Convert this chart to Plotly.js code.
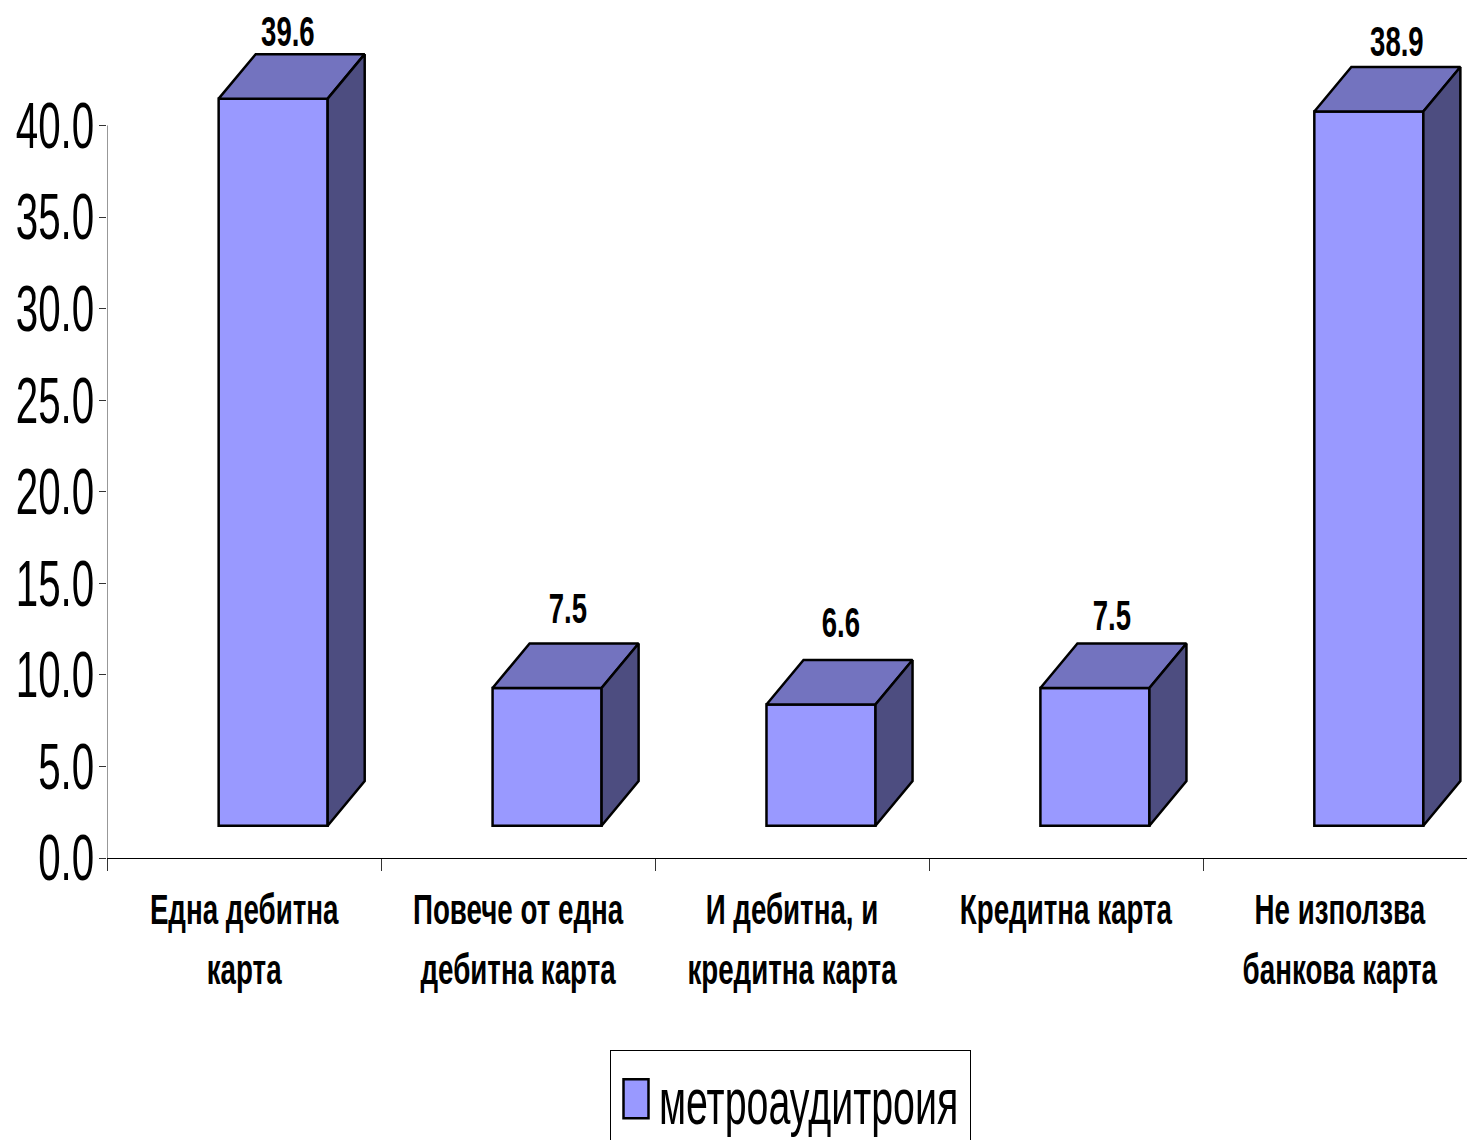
<!DOCTYPE html>
<html>
<head>
<meta charset="utf-8">
<script src="https://cdn.plot.ly/plotly-3.0.1.min.js"></script>
<style>html,body{margin:0;padding:0;background:#fff;overflow:hidden}</style>
</head>
<body>
<div id="chart" style="width:1467px;height:1140px"></div>
<script>
const categories = ['Една дебитна<br>карта', 'Повече от една<br>дебитна карта', 'И дебитна, и<br>кредитна карта', 'Кредитна карта', 'Не използва<br>банкова карта'];
const values = [39.6, 7.5, 6.6, 7.5, 38.9];
const seriesName = 'метроаудитроия';
const yTicks = [0, 5, 10, 15, 20, 25, 30, 35, 40];
const labelShiftX = [15, 21, 20, 17, 28];
const labelShiftY = [68, 80, 83, 73, 71];

const FRONT = '#9999FF', TOP = '#7373BF', SIDE = '#4D4D80';
const FONT = '"Liberation Sans", Arial, sans-serif';
const barOffset = 0.1066, barWidth = 0.398, depthX = 0.1352, depthY = 2.43, floor = 1.765, heightScale = 1.0025;
const unitsPerPx = 40 / 732.8;

const centers = values.map((_, i) => i + barOffset);
const heights = values.map(v => v * heightScale);
const traces = [{
  type: 'bar', name: seriesName, x: centers, y: heights, base: values.map(() => floor),
  width: barWidth, cliponaxis: false, showlegend: true,
  marker: {color: FRONT, line: {color: '#000', width: 2.5}}
}];
values.forEach((v, i) => {
  const x0 = centers[i] - barWidth / 2, x1 = centers[i] + barWidth / 2, t = floor + heights[i];
  traces.push({type: 'scatter', mode: 'lines', fill: 'toself', fillcolor: TOP, cliponaxis: false, showlegend: false,
    line: {color: '#000', width: 2.5},
    x: [x0, x0 + depthX, x1 + depthX, x1, x0], y: [t, t + depthY, t + depthY, t, t]});
  traces.push({type: 'scatter', mode: 'lines', fill: 'toself', fillcolor: SIDE, cliponaxis: false, showlegend: false,
    line: {color: '#000', width: 2.5},
    x: [x1, x1 + depthX, x1 + depthX, x1, x1], y: [floor, floor + depthY, t + depthY, t, floor]});
});

const xRange = [-0.5, 4.465];
const layout = {
  width: 1467, height: 1140, paper_bgcolor: '#fff', plot_bgcolor: '#fff',
  margin: {l: 107, r: 0, t: 0, b: 281.7, pad: 0, autoexpand: false},
  hovermode: false, showlegend: true,
  font: {family: FONT, color: '#000'},
  xaxis: {range: xRange, type: 'linear', tickmode: 'array', tickvals: categories.map((_, i) => i), ticktext: categories,
    ticks: '', ticklen: 0, ticklabelstandoff: 13, ticklabeloverflow: 'allow', tickangle: 0,
    tickfont: {family: FONT, size: 43, color: '#000', weight: 'bold'},
    minor: {tickmode: 'array', tickvals: categories.map((_, i) => i - 0.5 + (i ? 0.003 : 0)), ticks: 'outside', ticklen: 12, tickwidth: 1, tickcolor: '#333', showgrid: false},
    showgrid: false, zeroline: false, showline: true, linecolor: '#000', linewidth: 1},
  yaxis: {range: [0, 858.3 * unitsPerPx], tickmode: 'array', tickvals: yTicks, ticktext: yTicks.map(v => v.toFixed(1)),
    ticks: 'outside', ticklen: 7, tickwidth: 1, tickcolor: '#333', ticklabelstandoff: -8, ticklabeloverflow: 'allow',
    tickfont: {family: FONT, size: 64, color: '#000'},
    showgrid: false, zeroline: false, showline: false},
  shapes: [{type: 'line', xref: 'x', yref: 'y', x0: -0.5, x1: -0.5, y0: 0, y1: 40, line: {color: '#333', width: 1}}],
  legend: {x: 503 / 1360, y: 1 - 1050 / 858.3, xanchor: 'left', yanchor: 'top', bordercolor: '#000', borderwidth: 1,
    bgcolor: '#fff', font: {family: FONT, size: 64, color: '#000'}, itemwidth: 38, itemclick: false, itemdoubleclick: false},
  annotations: values.map((v, i) => ({
    x: centers[i], y: floor + heights[i], xref: 'x', yref: 'y', text: v.toFixed(1), showarrow: false,
    xanchor: 'center', yanchor: 'middle', xshift: labelShiftX[i], yshift: labelShiftY[i],
    font: {family: FONT, size: 43, color: '#000', weight: 'bold'}
  }))
};

function squeeze(el, scale, edge) {
  const b = el.getBBox();
  const c = edge === 'right' ? b.x + b.width : edge === 'left' ? b.x : b.x + b.width / 2;
  const prev = el.getAttribute('transform') || '';
  el.setAttribute('transform', `${prev} translate(${c},0) scale(${scale},1) translate(${-c},0)`);
}

Plotly.newPlot('chart', traces, layout, {displayModeBar: false, staticPlot: true}).then(() => {
  const root = document.getElementById('chart');
  root.querySelectorAll('.ytick text').forEach(t => squeeze(t, 0.63, 'right'));
  root.querySelectorAll('.xtick text').forEach(t => {
    t.querySelectorAll('tspan.line').forEach((s, i) => { if (i > 0) s.setAttribute('dy', '60'); });
    squeeze(t, 0.645, 'center');
  });
  root.querySelectorAll('.annotation-text').forEach(t => squeeze(t, 0.64, 'center'));
  root.querySelectorAll('.legendtext').forEach(t => squeeze(t, 0.615, 'left'));
  root.querySelectorAll('.legendpoints path').forEach(p => {
    p.setAttribute('d', 'M13.5,19.5H-11.5V-19.5H13.5Z');
    p.style.strokeWidth = '2.5px';
  });
  const bg = root.querySelector('.legend .bg');
  if (bg) { bg.setAttribute('width', 360); }
});
</script>
</body>
</html>
